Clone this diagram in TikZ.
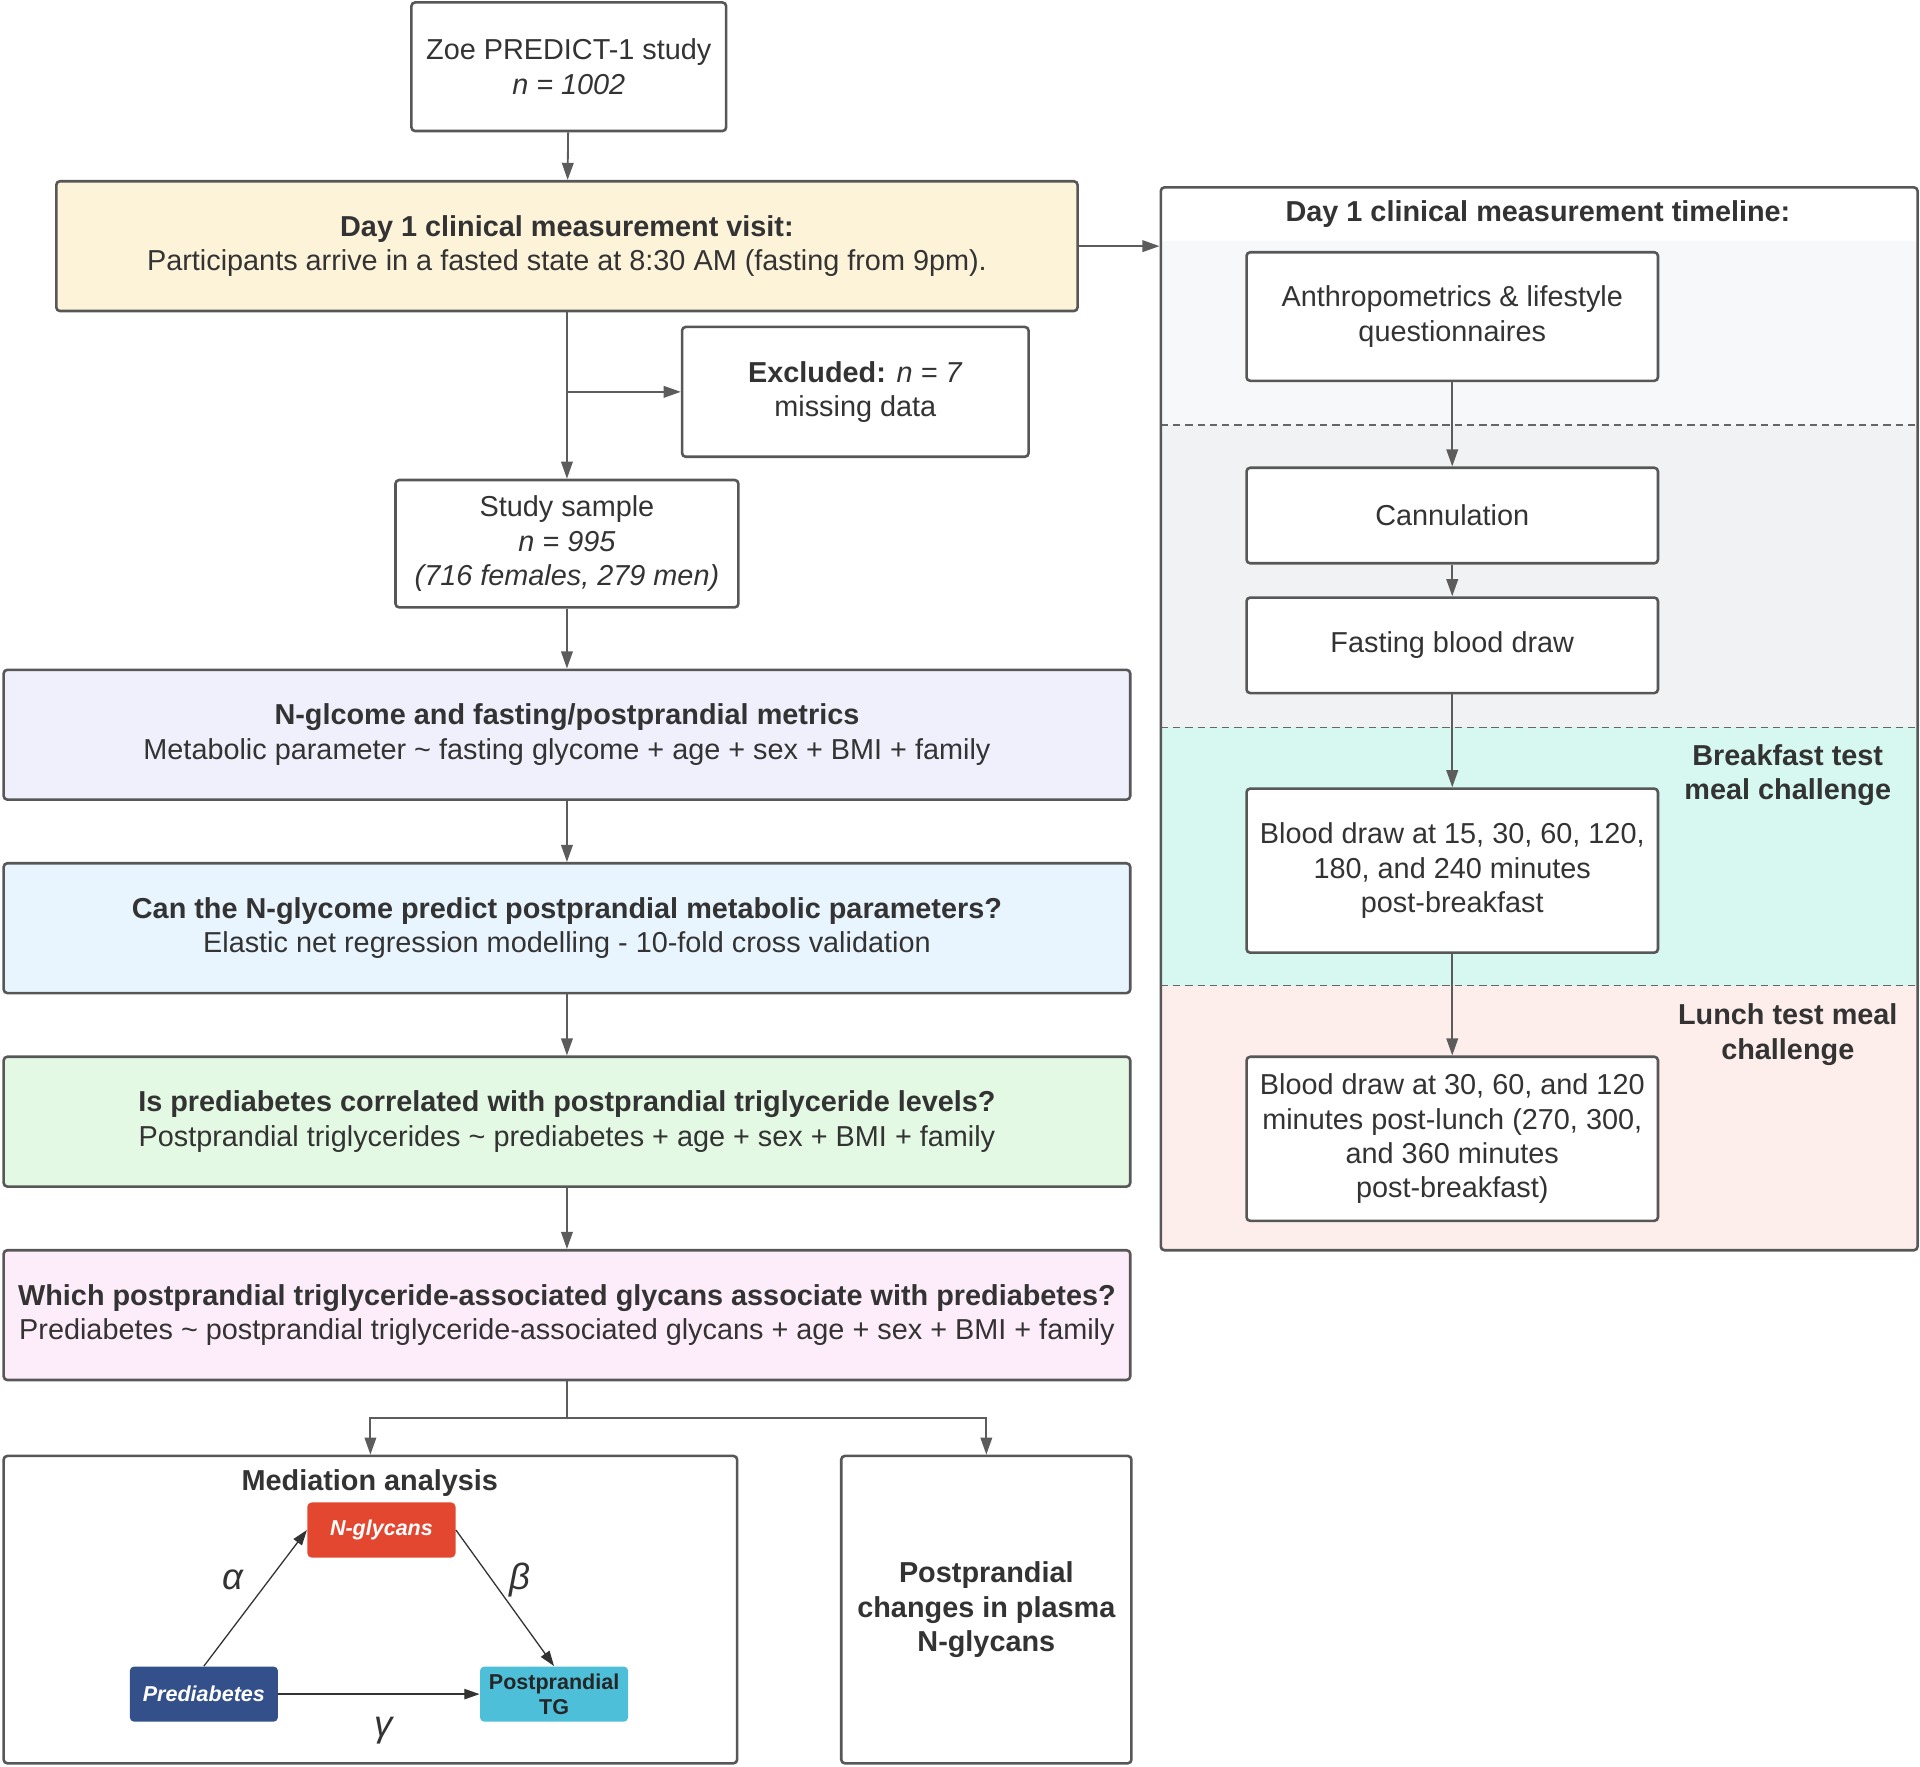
\documentclass[tikz,border=0pt]{standalone}
\usepackage{fontspec}
\setmainfont{Liberation Sans}
\usetikzlibrary{arrows.meta}

\definecolor{bordr}{HTML}{575757}
\definecolor{linec}{HTML}{5C5C5C}
\definecolor{txtc}{HTML}{333333}
\definecolor{visitc}{HTML}{FCF3D9}
\definecolor{glycc}{HTML}{EFF0FB}
\definecolor{elastc}{HTML}{E9F5FE}
\definecolor{corrc}{HTML}{E4F9E4}
\definecolor{assocc}{HTML}{FDEDFA}
\definecolor{bandg}{HTML}{F7F8FA}
\definecolor{bandh}{HTML}{F1F2F4}
\definecolor{bandc}{HTML}{D6F8F1}
\definecolor{bandp}{HTML}{FDEEEB}
\definecolor{ngly}{HTML}{E4472F}
\definecolor{navy}{HTML}{34508A}
\definecolor{tgc}{HTML}{4DBFD8}

\newcommand\mainsz{\fontsize{13.4}{16}\selectfont}

\begin{document}
\begin{tikzpicture}[x=0.2mm,y=-0.2mm,
  box/.style={draw=bordr,line width=1.2pt,rounded corners=1.7pt,fill=white,align=center,inner sep=0pt,text=txtc,font=\mainsz},
  wide/.style={box,minimum width=184mm,minimum height=21.2mm},
  tlbox/.style={box,minimum width=67.2mm},
  arr/.style={draw=linec,line width=0.85pt,-{Triangle[length=2.8mm,width=1.9mm]}},
  mini/.style={rounded corners=2pt,minimum width=24.2mm,minimum height=9mm,inner sep=0pt,align=center,font=\fontsize{10}{11.4}\selectfont\bfseries},
  marr/.style={draw=black!80,line width=0.6pt,-{Triangle[length=2.5mm,width=1.7mm]}},
  greek/.style={text=txtc,font=\fontsize{17}{17}\selectfont\itshape},
  lbl/.style={align=center,text=txtc,font=\mainsz\bfseries},
  bandline/.style={draw=black!60,line width=0.7pt,dash pattern=on 1.2mm off 0.8mm}]
\useasboundingbox (0,0) rectangle (1568,1443);

% timeline panel
\begin{scope}
\clip[rounded corners=1.7pt] (948,153) rectangle (1566,1021);
\fill[bandg] (948,197) rectangle (1566,347);
\fill[bandh] (948,347) rectangle (1566,594);
\fill[bandc] (948,594) rectangle (1566,805);
\fill[bandp] (948,805) rectangle (1566,1021);
\end{scope}
\foreach \y in {347,594,805}
  \draw[bandline] (948,\y) -- (1566,\y);
\node[draw=bordr,line width=1.2pt,rounded corners=1.7pt,minimum width=123.6mm,minimum height=173.6mm] (tl) at (1257,587) {};
\node[lbl] (tltitle) at (1256,175) {Day 1 clinical measurement timeline:};
\node[lbl] (bfast) at (1460,633) {Breakfast test\\meal challenge};
\node[lbl] (lunch) at (1460,845) {Lunch test meal\\challenge};

\node[tlbox,minimum height=21mm] (anth) at (1186,258.5) {Anthropometrics \& lifestyle\\questionnaires};
\node[tlbox,minimum height=15.6mm] (cann) at (1186,421) {Cannulation};
\node[tlbox,minimum height=15.6mm] (fast) at (1186,527) {Fasting blood draw};
\node[tlbox,minimum height=26.8mm] (bd1) at (1186,711) {Blood draw at 15, 30, 60, 120,\\180, and 240 minutes\\post-breakfast};
\node[tlbox,minimum height=26.8mm] (bd2) at (1186,930) {Blood draw at 30, 60, and 120\\minutes post-lunch (270, 300,\\and 360 minutes\\post-breakfast)};

\draw[arr] (anth) -- (cann);
\draw[arr] (cann) -- (fast);
\draw[arr] (fast) -- (bd1);
\draw[arr] (bd1) -- (bd2);

% main flow
\node[box,minimum width=51.4mm,minimum height=21mm] (zoe) at (464.5,54.5) {Zoe PREDICT-1 study\\\textit{n = 1002}};
\node[box,fill=visitc,minimum width=166.8mm,minimum height=21.2mm] (visit) at (463,201) {\textbf{Day 1 clinical measurement visit:}\\Participants arrive in a fasted state at 8:30 AM (fasting from 9pm).};
\node[box,minimum width=56.6mm,minimum height=21.2mm] (excl) at (698.5,320) {\textbf{Excluded:} \textit{n = 7}\\missing data};
\node[box,minimum width=56mm,minimum height=20.8mm] (sample) at (463,444) {Study sample\\\textit{n = 995}\\\textit{(716 females, 279 men)}};
\node[wide,fill=glycc] (glycome) at (463,600) {\textbf{N-glcome and fasting/postprandial metrics}\\Metabolic parameter \textasciitilde{} fasting glycome + age + sex + BMI + family};
\node[wide,fill=elastc] (elastic) at (463,758) {\textbf{Can the N-glycome predict postprandial metabolic parameters?}\\Elastic net regression modelling - 10-fold cross validation};
\node[wide,fill=corrc] (corr) at (463,916) {\textbf{Is prediabetes correlated with postprandial triglyceride levels?}\\Postprandial triglycerides \textasciitilde{} prediabetes + age + sex + BMI + family};
\node[wide,fill=assocc] (assoc) at (463,1074) {\textbf{Which postprandial triglyceride-associated glycans associate with prediabetes?}\\Prediabetes \textasciitilde{} postprandial triglyceride-associated glycans + age + sex + BMI + family};
\node[box,minimum width=119.8mm,minimum height=50.2mm] (med) at (302.5,1314.5) {};
\node[box,font=\mainsz\bfseries,minimum width=47.4mm,minimum height=50.2mm] (chg) at (805.5,1314.5) {Postprandial\\changes in plasma\\N-glycans};

\draw[arr] (zoe) -- (visit);
\draw[arr] (visit.east) -- (visit.east -| tl.west);
\draw[arr] (visit) -- (sample);
\draw[arr] (visit.south |- excl.west) -- (excl.west);
\draw[arr] (sample) -- (glycome);
\draw[arr] (glycome) -- (elastic);
\draw[arr] (elastic) -- (corr);
\draw[arr] (corr) -- (assoc);
\coordinate (split) at (463,1158);
\draw[linec,line width=0.85pt] (assoc.south) -- (split);
\draw[arr] (split) -| (med.north);
\draw[arr] (split) -| (chg.north);

% mediation triangle
\node[lbl] (medtitle) at (302,1211) {Mediation analysis};
\node[mini,fill=ngly,text=white] (nglyc) at (311.5,1249.5) {\itshape N-glycans};
\node[mini,fill=navy,text=white] (prediab) at (166.5,1383.5) {\itshape Prediabetes};
\node[mini,fill=tgc,text=black!85] (ptg) at (452.5,1383.5) {Postprandial\\TG};
\draw[marr] (prediab.north) -- (nglyc.west);
\draw[marr] (nglyc.east) -- (ptg.north);
\draw[marr] (prediab.east) -- (ptg.west);
\node[greek] (alpha) at (190,1290) {α};
\node[greek] (beta) at (425,1290) {β};
\node[greek] (gamma) at (313,1413) {γ};
\end{tikzpicture}
\end{document}
